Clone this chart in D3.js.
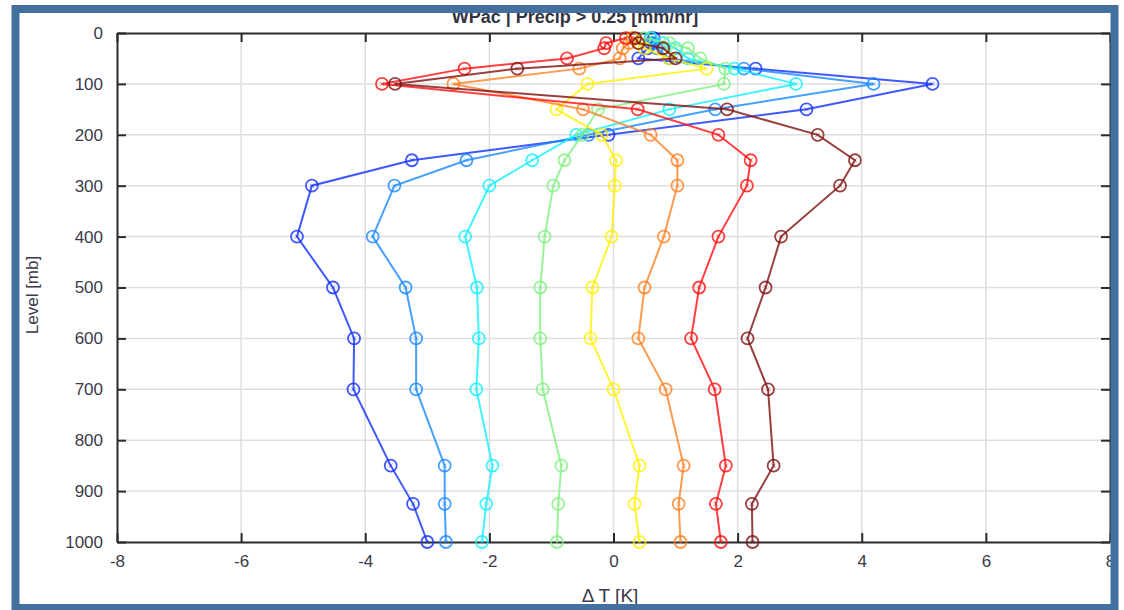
<!DOCTYPE html>
<html>
<head>
<meta charset="utf-8">
<script src="https://cdn.jsdelivr.net/npm/d3@7"></script>
<style>
  body { margin: 0; background: #fff; }
  svg { display: block; font-family: "Liberation Sans", Arial, sans-serif; }
  .grid line { stroke: #dedede; stroke-width: 1.5; }
  .axis path, .axis line { stroke: #2b2b2b; stroke-width: 2; }
  .axis text { fill: #3a3a48; font-size: 17px; }
</style>
</head>
<body>
<svg width="1124" height="610"></svg>
<script>
var levels = [1000, 925, 850, 700, 600, 500, 400, 300, 250, 200, 150, 100, 70, 50, 30, 20, 10];

var blueT      = [-3.00, -3.23, -3.59, -4.19, -4.18, -4.52, -5.10, -4.86, -3.25, -0.08, 3.11, 5.14, 2.29, 0.40, 0.55, 0.60, 0.65];
var lightBlueT = [-2.70, -2.72, -2.72, -3.18, -3.18, -3.35, -3.88, -3.53, -2.37, -0.40, 1.64, 4.19, 2.10, 0.90, 0.70, 0.65, 0.60];
var cyanT      = [-2.12, -2.05, -1.95, -2.21, -2.17, -2.20, -2.39, -2.00, -1.31, -0.60, 0.90, 2.94, 1.95, 1.20, 1.00, 0.80, 0.60];
var greenT     = [-0.91, -0.89, -0.84, -1.14, -1.18, -1.18, -1.11, -0.97, -0.79, -0.50, -0.25, 1.78, 1.80, 1.40, 1.20, 0.90, 0.50];
var yellowT    = [0.42, 0.34, 0.42, 0.00, -0.37, -0.34, -0.03, 0.02, 0.04, -0.19, -0.92, -0.42, 1.50, 0.90, 0.50, 0.40, 0.30];
var orangeT    = [1.08, 1.05, 1.13, 0.84, 0.40, 0.50, 0.81, 1.03, 1.03, 0.60, -0.49, -2.58, -0.55, 0.10, 0.15, 0.25, 0.30];
var redT       = [1.73, 1.65, 1.81, 1.63, 1.25, 1.38, 1.69, 2.15, 2.21, 1.69, 0.39, -3.73, -2.40, -0.75, -0.15, -0.12, 0.20];
var brownT     = [2.24, 2.23, 2.58, 2.49, 2.16, 2.45, 2.70, 3.65, 3.89, 3.29, 1.83, -3.52, -1.55, 1.00, 0.80, 0.40, 0.35];

// jet(8)
var seriesColors = ["#1030ff", "#1888ff", "#10f0ff", "#80f080", "#fff000", "#ff8020", "#ff1010", "#801010"];
var seriesValues = [blueT, lightBlueT, cyanT, greenT, yellowT, orangeT, redT, brownT];

var xTicks = [-8, -6, -4, -2, 0, 2, 4, 6, 8];
var yTicks = [0, 100, 200, 300, 400, 500, 600, 700, 800, 900, 1000];

var svg = d3.select("svg"),
  plotL = 117, plotR = 1110, plotT = 33, plotB = 542;

var x = d3.scaleLinear().domain([-8, 8]).range([plotL, plotR]);
var y = d3.scaleLinear().domain([0, 1000]).range([plotT, plotB]);
var fmt = function(d) { return String(d); };

svg.append("rect").attr("width", 1124).attr("height", 610).attr("fill", "#fff");

// grid
var grid = svg.append("g").attr("class", "grid");
grid.selectAll(".gx").data(xTicks.slice(1, -1)).enter().append("line")
  .attr("x1", function(d) { return x(d); }).attr("x2", function(d) { return x(d); })
  .attr("y1", plotT).attr("y2", plotB);
grid.selectAll(".gy").data(yTicks.slice(1, -1)).enter().append("line")
  .attr("x1", plotL).attr("x2", plotR)
  .attr("y1", function(d) { return y(d); }).attr("y2", function(d) { return y(d); });

// axes, ticks pointing inward on all four sides
svg.append("g").attr("class", "axis")
  .attr("transform", "translate(0," + plotB + ")")
  .call(d3.axisBottom(x).tickValues(xTicks).tickFormat(fmt).tickSize(-9).tickPadding(13).tickSizeOuter(0))
  .selectAll("text").attr("dy", "0.71em");
svg.append("g").attr("class", "axis")
  .attr("transform", "translate(0," + plotT + ")")
  .call(d3.axisTop(x).tickValues(xTicks).tickSize(-9).tickFormat("").tickSizeOuter(0));
svg.append("g").attr("class", "axis")
  .attr("transform", "translate(" + plotL + ",0)")
  .call(d3.axisLeft(y).tickValues(yTicks).tickFormat(fmt).tickSize(-9).tickPadding(14).tickSizeOuter(0));
svg.append("g").attr("class", "axis")
  .attr("transform", "translate(" + plotR + ",0)")
  .call(d3.axisRight(y).tickValues(yTicks).tickSize(-9).tickFormat("").tickSizeOuter(0));

// the lines
var line = d3.line()
  .x(function(d) { return x(d[0]); })
  .y(function(d) { return y(d[1]); });

seriesValues.forEach(function(vals, i) {
  var pts = vals.map(function(v, j) { return [v, levels[j]]; });
  var g = svg.append("g");
  g.append("path")
    .datum(pts)
    .attr("d", line)
    .attr("fill", "none")
    .attr("stroke", seriesColors[i])
    .attr("stroke-width", 2)
    .attr("stroke-opacity", 0.8);
  var m = g.selectAll(".m").data(pts).enter().append("g")
    .attr("transform", function(d) { return "translate(" + x(d[0]) + "," + y(d[1]) + ")"; });
  m.append("circle")
    .attr("r", 6)
    .attr("fill", "none")
    .attr("stroke", seriesColors[i])
    .attr("stroke-width", 1.8)
    .attr("stroke-opacity", 0.8);
  m.append("path")
    .attr("d", "M-2,-2L2,2M-2,2L2,-2")
    .attr("stroke", seriesColors[i])
    .attr("stroke-width", 1)
    .attr("stroke-opacity", 0.6);
});

// texts
svg.append("text")
  .attr("x", 575).attr("y", 23)
  .attr("text-anchor", "middle")
  .attr("font-size", 18).attr("font-weight", "bold")
  .attr("fill", "#333340")
  .text("WPac | Precip > 0.25 [mm/hr]");

svg.append("text")
  .attr("transform", "translate(38,295) rotate(-90)")
  .attr("text-anchor", "middle")
  .attr("font-size", 17)
  .attr("fill", "#3a3a48")
  .text("Level [mb]");

svg.append("text")
  .attr("x", 610).attr("y", 602)
  .attr("text-anchor", "middle")
  .attr("font-size", 19)
  .attr("fill", "#3a3a48")
  .text("\u0394 T [K]");

// blue frame
svg.append("rect")
  .attr("x", 15.5).attr("y", 9)
  .attr("width", 1099).attr("height", 599)
  .attr("fill", "none")
  .attr("stroke", "#43709e")
  .attr("stroke-width", 8);
</script>
</body>
</html>
